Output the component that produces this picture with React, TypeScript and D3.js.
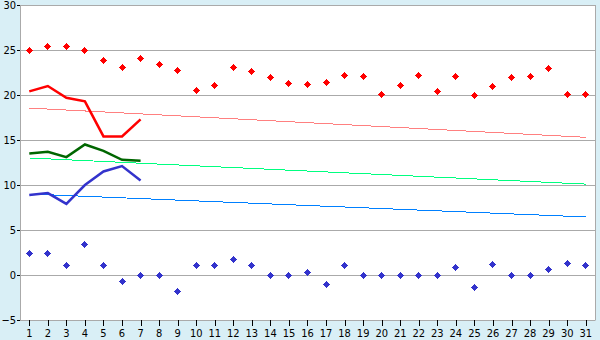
import React from "react";
import * as d3 from "d3";

const days = d3.range(1, 32).map(String);
const maxTemps = [24.9, 25.4, 25.4, 24.9, 23.8, 23.1, 24.1, 23.4, 22.7, 20.5, 21.0, 23.1, 22.6, 22.0, 21.3, 21.2, 21.4, 22.2, 22.1, 20.1, 21.1, 22.2, 20.4, 22.1, 19.9, 20.9, 22.0, 22.1, 22.9, 20.0, 20.0];
const minTemps = [2.4, 2.4, 1.0, 3.4, 1.0, -0.7, 0, 0, -1.8, 1.0, 1.1, 1.7, 1.0, 0, -0.1, 0.3, -1.1, 1.0, 0, -0.1, 0, 0, 0, 0.8, -1.4, 1.2, 0, 0, 0.6, 1.3, 1.0];
const redLine = [20.4, 21.0, 19.7, 19.3, 15.4, 15.4, 17.3];
const greenLine = [13.5, 13.7, 13.1, 14.5, 13.8, 12.8, 12.7];
const blueLine = [8.9, 9.1, 7.9, 10.0, 11.5, 12.1, 10.5];
const redTrend = [18.55, 15.3];
const greenTrend = [13.0, 10.1];
const blueTrend = [9.0, 6.45];
const yTicks = [-5, 0, 5, 10, 15, 20, 25, 30];

const W = 600, H = 340;
const L = 20, R = 595, T = 5, B = 320;

export default function App() {
  const x = d3.scaleBand().domain(days).range([L, R]);
  const cx = (d: string) => (x(d) as number) + x.bandwidth() / 2;
  const y = d3.scaleLinear().domain([-5, 30]).range([B, T]);
  const line = d3.line<number>().x((_, i) => cx(days[i])).y((v) => y(v));
  const trend = (t: number[]) =>
    `M${cx(days[0])},${y(t[0])}L${cx(days[days.length - 1])},${y(t[1])}`;
  const marker = (px: number, py: number) => {
    const a = Math.floor(px), b = Math.floor(py);
    return (
      `M${a - 1},${b - 2}h3v1h1v3h-1v1h-3v-1h-1v-3h1z` +
      `M${a},${b - 3}h1v7h-1z` +
      `M${a - 3},${b}h7v1h-7z`
    );
  };
  const font = "'DejaVu Sans Condensed', 'Liberation Sans Narrow', 'DejaVu Sans', sans-serif";
  return (
    <svg width={W} height={H} style={{ position: "absolute", left: 0, top: 0 }}>
      <rect x={0} y={0} width={W} height={H} fill="#d9eff6" />
      <rect x={L} y={T} width={R - L} height={B - T} fill="#ffffff" />
      {yTicks.map((t) => (
        <g key={t}>
          <line x1={L} x2={R} y1={Math.round(y(t)) + 0.5} y2={Math.round(y(t)) + 0.5} stroke="#aaaaaa" />
          <line x1={L - 3} x2={L} y1={Math.round(y(t)) + 0.5} y2={Math.round(y(t)) + 0.5} stroke="#000" />
          <text x={16} y={y(t)} dy="0.35em" textAnchor="end" fontFamily={font} fontSize={11} fill="#000">
            {t < 0 ? "\u2212" + Math.abs(t) : t}
          </text>
        </g>
      ))}
      <line x1={L + 0.5} x2={L + 0.5} y1={T} y2={B + 0.5} stroke="#aaaaaa" />
      <line x1={R + 0.5} x2={R + 0.5} y1={T} y2={B + 0.5} stroke="#aaaaaa" />
      {days.map((d) => (
        <g key={d}>
          <line x1={Math.round(cx(d)) + 0.5} x2={Math.round(cx(d)) + 0.5} y1={B} y2={B + 6} stroke="#000" />
          <text x={cx(d)} y={337} textAnchor="middle" fontFamily={font} fontSize={11} fill="#000">
            {d}
          </text>
        </g>
      ))}
      <path d={trend(redTrend)} stroke="#ff8080" strokeWidth={1} fill="none" shapeRendering="crispEdges" />
      <path d={trend(greenTrend)} stroke="#00ff80" strokeWidth={1} fill="none" shapeRendering="crispEdges" />
      <path d={trend(blueTrend)} stroke="#0080ff" strokeWidth={1} fill="none" shapeRendering="crispEdges" />
      <path d={line(redLine) as string} stroke="#ff0000" strokeWidth={2.5} fill="none" />
      <path d={line(greenLine) as string} stroke="#006600" strokeWidth={2.5} fill="none" />
      <path d={line(blueLine) as string} stroke="#3333cc" strokeWidth={2.5} fill="none" />
      {maxTemps.map((v, i) => (
        <path key={"mx" + i} d={marker(cx(days[i]), y(v))} fill="#ff0000" shapeRendering="crispEdges" />
      ))}
      {minTemps.map((v, i) => (
        <path key={"mn" + i} d={marker(cx(days[i]), y(v))} fill="#3333cc" shapeRendering="crispEdges" />
      ))}
    </svg>
  );
}
